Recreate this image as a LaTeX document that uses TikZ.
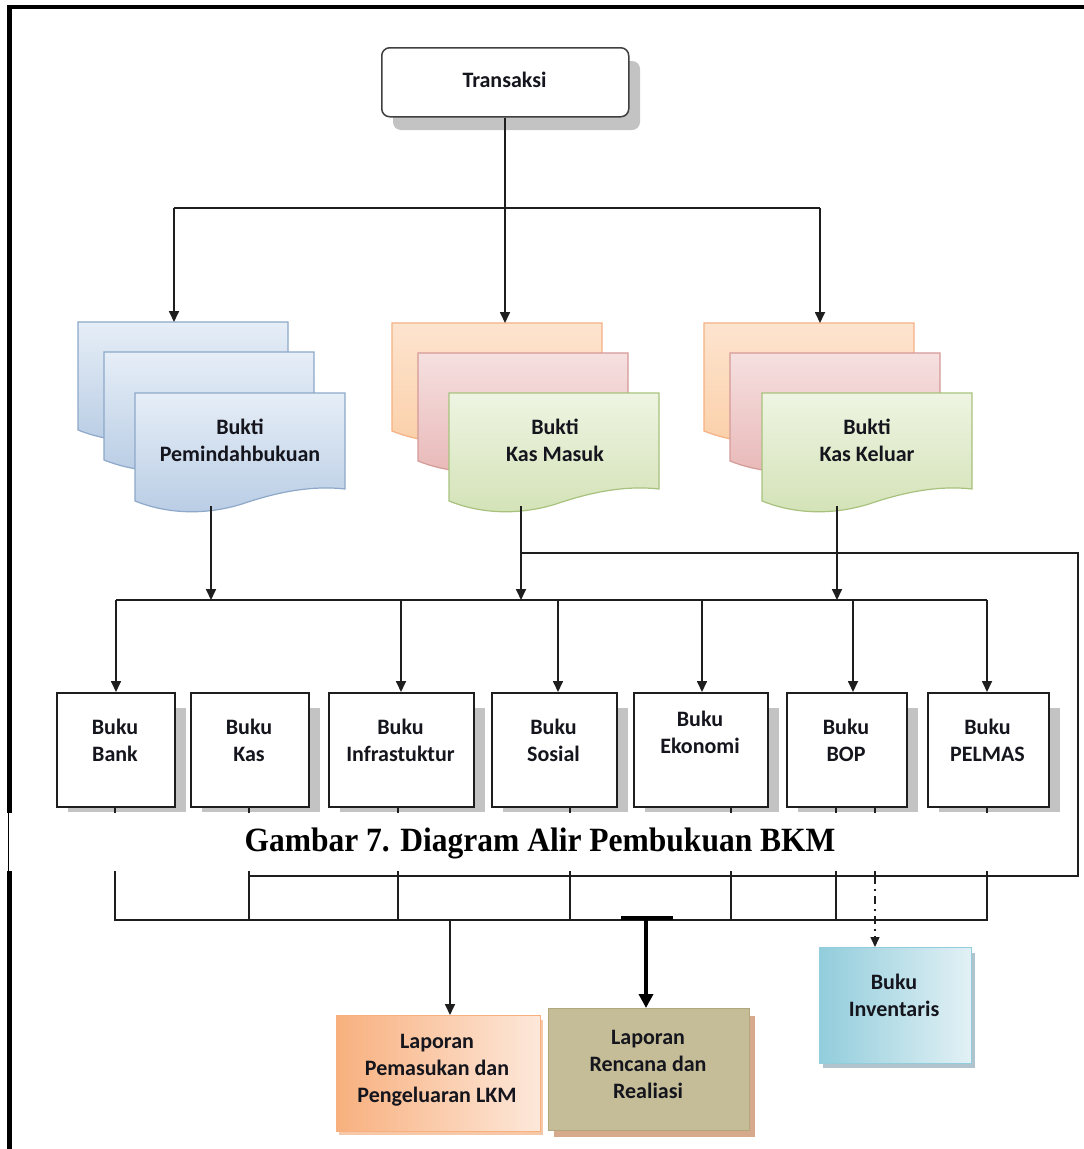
\documentclass[tikz,border=0pt]{standalone}
\usepackage{fontspec}
\setmainfont{Liberation Serif}
\newfontfamily\diagfont{Carlito}
\usetikzlibrary{arrows.meta}
\definecolor{txt}{HTML}{15151D}
\definecolor{ln}{HTML}{1E1E1E}
\definecolor{shd}{HTML}{C3C3C3}
\definecolor{bluB}{HTML}{B8CCE4}
\definecolor{bluT}{HTML}{E6EEF7}
\definecolor{bluD}{HTML}{8DA8C8}
\definecolor{orgT}{HTML}{FDE4CF}
\definecolor{orgB}{HTML}{FBCFA8}
\definecolor{orgD}{HTML}{F4B183}
\definecolor{pnkT}{HTML}{F6E0E0}
\definecolor{pnkB}{HTML}{E8B8B7}
\definecolor{pnkD}{HTML}{D49A98}
\definecolor{grnB}{HTML}{D3E2B6}
\definecolor{grnT}{HTML}{EEF4E2}
\definecolor{grnD}{HTML}{A8C27E}
\definecolor{lapO}{HTML}{F8B07E}
\definecolor{lapOl}{HTML}{FDE8DA}
\definecolor{lapOD}{HTML}{F2A46E}
\definecolor{khaki}{HTML}{C4BD97}
\definecolor{khakiD}{HTML}{B0A77C}
\definecolor{khakiS}{HTML}{D6A88C}
\definecolor{invD}{HTML}{92CDDC}
\definecolor{invL}{HTML}{E2F1F5}
\definecolor{invS}{HTML}{8FAAB8}
\newcommand\docshape[3]{%
  \path[shift={(#1,#2)},line width=1.2pt,#3] (0,0) -- (210,0) -- (210,96)
    .. controls (175,92) and (140,100) .. (110,110)
    .. controls (80,120) and (40,124) .. (0,108) -- cycle;}
\newcommand\bukunode[6]{%
  \fill[shd] (#2+12,708) rectangle (#3+12,812);
  \node[bukubox, minimum width={#3-#2}] (#1) at (#2,692) {};
  \node[lbl] (#1t) at ({(#2+#3)/2},#5) {#4};
  \coordinate (#1b) at ([xshift=#6pt]#1.south west);}
\begin{document}
\begin{tikzpicture}[x=1pt,y=-1pt,
  lbl/.style={font=\diagfont\bfseries\fontsize{22}{27}\selectfont, text=txt, align=center, inner sep=0pt},
  conn/.style={draw=ln, line width=1.7pt},
  arr/.style={conn, -{Triangle[length=11pt,width=10pt]}},
  bukubox/.style={draw=ln, line width=1.6pt, fill=white, anchor=north west, inner sep=0pt, minimum height=114pt}]
\useasboundingbox (0,0) rectangle (1084,1149);
\fill[white] (0,0) rectangle (1084,1149);

% Transaksi
\fill[shd, rounded corners=8pt] (393,61) rectangle (640,130);
\node[draw=ln!85, line width=1.5pt, fill=white, rounded corners=8pt, minimum width=247pt, minimum height=69pt, anchor=north west, lbl] (trans) at (381,47) {};
\node[lbl] (transt) at (504.5,80) {Transaksi};

% document stacks
\docshape{78}{322}{draw=bluD, top color=bluT, middle color=white, bottom color=bluB}
\docshape{104}{352}{draw=bluD, top color=bluT, middle color=white, bottom color=bluB}
\docshape{135}{393}{draw=bluD, top color=bluT, middle color=white, bottom color=bluB}
\node[lbl] (dpem) at (240,440.5) {Bukti\\Pemindahbukuan};

\docshape{392}{323}{draw=orgD, top color=orgT, middle color=white, bottom color=orgB}
\docshape{418}{353}{draw=pnkD, top color=pnkT, middle color=white, bottom color=pnkB}
\docshape{449}{393}{draw=grnD, top color=grnT, middle color=white!50!grnT, bottom color=grnB}
\node[lbl] (dmasuk) at (555,440.5) {Bukti\\Kas Masuk};

\docshape{704}{323}{draw=orgD, top color=orgT, middle color=white, bottom color=orgB}
\docshape{730}{353}{draw=pnkD, top color=pnkT, middle color=white, bottom color=pnkB}
\docshape{762}{393}{draw=grnD, top color=grnT, middle color=white!50!grnT, bottom color=grnB}
\node[lbl] (dkeluar) at (867,440.5) {Bukti\\Kas Keluar};

\coordinate (pemtop) at (174,322);
\coordinate (masuktop) at (505,323);
\coordinate (keluartop) at (820,323);
\coordinate (pembot) at (211,506);
\coordinate (masukbot) at (521,506);
\coordinate (keluarbot) at (837,506);

% Buku row
\bukunode{bank}{56}{174}{Buku\\Bank}{740}{59}
\bukunode{kas}{190}{308}{Buku\\Kas}{740}{59}
\bukunode{infra}{328}{473}{Buku\\Infrastuktur}{740}{70}
\bukunode{sosial}{491}{616}{Buku\\Sosial}{740}{79}
\bukunode{ekonomi}{633}{767}{Buku\\Ekonomi}{732.5}{98}
\bukunode{bop}{786}{906}{Buku\\BOP}{740}{50}
\bukunode{pelmas}{927}{1048}{Buku\\PELMAS}{740}{60}
\coordinate (bopd) at ([xshift=89pt]bop.south west);

% bottom boxes
\fill[lapOD!60] (339,1020) rectangle (543,1135);
\node[draw=lapO, line width=1pt, left color=lapO, right color=lapOl, anchor=north west, minimum width=204pt, minimum height=116pt, inner sep=0pt] (lap1) at (336,1015) {};
\node[lbl] (lap1t) at (437,1070) {Laporan\\Pemasukan dan\\Pengeluaran LKM};

\fill[khakiS] (554,1016) rectangle (755,1137);
\node[draw=khakiD, line width=0.8pt, fill=khaki, anchor=north west, minimum width=201pt, minimum height=122pt, inner sep=0pt] (lap2) at (548,1008) {};
\node[lbl] (lap2t) at (648,1064) {Laporan\\Rencana dan\\Realiasi};

\fill[invS!70] (823,953) rectangle (975,1068);
\node[draw=invD, line width=1pt, left color=invD, right color=invL, anchor=north west, minimum width=152pt, minimum height=116pt, inner sep=0pt] (inv) at (819,947) {};
\node[lbl] (invt) at (894,995) {Buku\\Inventaris};

% connectors top
\coordinate (tj) at (505,208);
\coordinate (tl) at (174,208);
\coordinate (tr) at (820,208);
\draw[conn] (trans.south -| tj) -- (tj);
\draw[conn] (tl) -- (tr);
\draw[arr] (tl) -- (pemtop);
\draw[arr] (tj) -- (masuktop);
\draw[arr] (tr) -- (keluartop);

% docs to bus
\coordinate (b1l) at (116,600);
\coordinate (b1r) at (987,600);
\draw[arr] (pembot) -- (pembot |- b1l);
\draw[arr] (masukbot) -- (masukbot |- b1l);
\draw[arr] (keluarbot) -- (keluarbot |- b1l);
\draw[conn] (b1l) -- (b1r);
\draw[arr] (b1l) -- (b1l |- bank.north);
\draw[arr] ([xshift=73pt]infra.north west |- b1l) -- ([xshift=73pt]infra.north west);
\draw[arr] ([xshift=67pt]sosial.north west |- b1l) -- ([xshift=67pt]sosial.north west);
\draw[arr] ([xshift=69pt]ekonomi.north west |- b1l) -- ([xshift=69pt]ekonomi.north west);
\draw[arr] ([xshift=67pt]bop.north west |- b1l) -- ([xshift=67pt]bop.north west);
\draw[arr] (b1r) -- (b1r |- pelmas.north);

% feedback loop
\coordinate (fbj) at (521,553);
\coordinate (fbc1) at (1078,553);
\coordinate (fbc2) at (1078,876);
\coordinate (kasf) at (249,876);
\draw[conn] (fbj) -- (fbc1) -- (fbc2) -- (kasf);

% lower bus
\coordinate (b2l) at (115,920);
\coordinate (b2r) at (987,920);
\draw[conn] (bankb) -- (b2l) -- (b2r) -- (pelmasb);
\draw[conn] (kasb) -- (kasb |- b2l);
\draw[conn] (infrab) -- (infrab |- b2l);
\draw[conn] (sosialb) -- (sosialb |- b2l);
\draw[conn] (ekonomib) -- (ekonomib |- b2l);
\draw[conn] (bopb) -- (bopb |- b2l);
\coordinate (bopm) at (875,876);
\draw[conn] (bopd) -- (bopm);
\draw[draw=ln, line width=1.4pt, dash pattern=on 8pt off 5pt on 2pt off 5pt, -{Triangle[length=10pt,width=9pt]}] (bopm) -- (bopm |- inv.north);

\coordinate (lpj) at (450,920);
\draw[arr] (lpj) -- (lpj |- lap1.north);
\coordinate (lrj) at (646,918);
\draw[draw=black, line width=4pt] (621,918) -- (673,918);
\draw[draw=black, line width=4.5pt, -{Triangle[length=14pt,width=14pt]}] (lrj) -- (lrj |- lap2.north);

% caption band
\fill[white] (8.5,813) rectangle (1074,871);
\node[font=\bfseries\fontsize{34}{38}\selectfont, inner sep=0pt, xscale=0.927] (caption) at (540,843) {Gambar 7. Diagram Alir Pembukuan BKM};

% frame
\draw[line width=4pt, black] (9.5,7) -- (1084,7);
\draw[line width=5pt, black] (9.5,5) -- (9.5,813);
\draw[line width=5pt, black] (9.5,871) -- (9.5,1149);
\draw[line width=1pt, black] (8,813) -- (8,871);
\end{tikzpicture}
\end{document}
